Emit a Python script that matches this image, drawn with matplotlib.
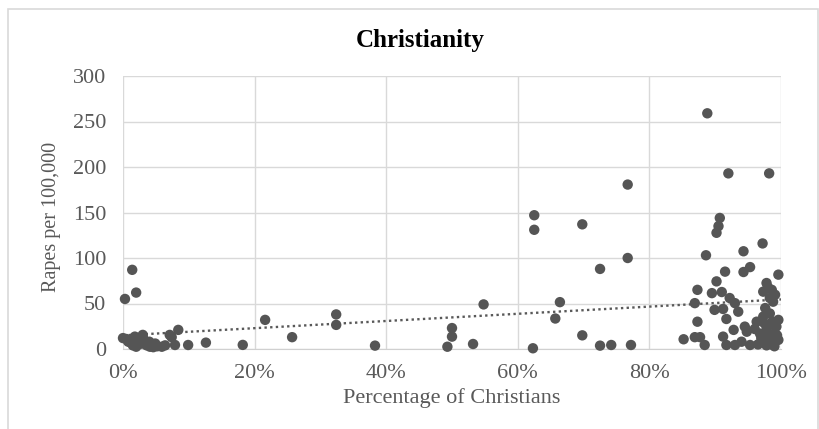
import matplotlib.pyplot as plt
import numpy as np
from matplotlib.patches import Rectangle
from matplotlib.ticker import PercentFormatter

# share of Christians in the population (%) and rapes per 100,000, one entry per country
pct_christian = [
    0.0, 0.3, 0.5, 0.8, 1.2, 1.4, 1.5, 1.8, 2.0, 2.0, 2.6, 2.8, 3.0, 3.0, 3.3,
    3.6, 4.0, 4.1, 4.6, 4.9, 5.2, 5.9, 6.4, 7.1, 7.4, 7.9, 8.4, 9.9, 12.6,
    18.2, 21.6, 25.7,
    32.4, 32.4, 38.3, 49.3, 50.0, 50.0, 53.2, 54.8, 62.3, 62.5, 62.5, 65.7,
    66.4, 69.8, 69.8, 72.5, 72.5, 74.2, 76.7, 76.7, 77.2,
    85.2, 86.9, 86.9, 87.3, 87.3, 87.7, 88.4, 88.6, 88.8, 89.5, 89.9, 90.2,
    90.2, 90.5, 90.7, 91.0, 91.2, 91.2, 91.5, 91.7, 91.7, 92.0, 92.2, 92.8,
    93.0, 93.0, 93.5, 94.0, 94.3, 94.3, 94.5, 94.8, 95.3, 95.3,
    96.3, 96.8, 97.2, 97.3, 97.3, 97.3, 97.8, 97.8, 97.8, 98.0, 98.0, 98.2,
    98.3, 98.3, 98.3, 98.6, 98.8, 98.8, 99.0, 99.1, 99.3, 99.6, 99.6, 99.6,
    96.0, 96.5, 97.0, 97.5, 98.5, 98.7, 99.0, 99.4, 97.6,
]
rapes_per_100k = [
    12, 55, 11, 8, 7, 87, 4, 13.6, 62, 2.5, 6, 6, 15.5, 13, 9,
    4, 8, 2.5, 2, 6, 3, 2.5, 4, 15.5, 13, 4.4, 21, 4.4, 7,
    4.5, 32, 13,
    38, 26.5, 3.7, 2.5, 23, 13.6, 5.5, 49, 0.8, 147, 131, 33.5,
    51.5, 137, 15, 88, 3.7, 4.4, 180.7, 100, 4.4,
    10.7, 50.4, 13, 65, 30, 13, 4.4, 103, 259, 61.4, 43, 127.7,
    74.3, 135, 144, 62.6, 44, 13.6, 85, 33, 4.4, 193, 56, 21,
    50.4, 4.4, 41, 8, 107.4, 84.6, 24.6, 19, 90, 4.4,
    30, 17, 116, 63, 35.6, 8, 72.5, 21, 4, 68, 25, 193,
    56, 39, 13.6, 65, 52, 4.4, 17, 59.6, 24.6, 81.7, 32, 10,
    22, 5, 12, 28, 8, 30, 3, 15, 45,
]

x_ticks = [0, 20, 40, 60, 80, 100]
y_ticks = [0, 50, 100, 150, 200, 250, 300]

plt.rcParams["font.family"] = ["Liberation Serif", "DejaVu Serif"]

W, H = 820, 429
fig = plt.figure(figsize=(W / 100, H / 100), dpi=100)
ax = fig.add_axes([123 / W, 1 - 349 / H, (781 - 123) / W, (349 - 76) / H])

# thin chart-area frame
fig.patches.append(Rectangle((8 / W, -0.05), (818 - 8) / W, 1 - 9 / H + 0.05,
                             transform=fig.transFigure, fill=False,
                             edgecolor="#d9d9d9", linewidth=1.2))

x = np.array(pct_christian)
y = np.array(rapes_per_100k)
ax.scatter(x, y, s=56, color="#555555", edgecolors="none", zorder=3, clip_on=False)

# linear trendline
slope, intercept = np.polyfit(x, y, 1)
xs = np.array([0, 100])
ax.plot(xs, slope * xs + intercept, linestyle=(0, (1, 1.4)), color="#595959",
        linewidth=1.7, zorder=2)

ax.set_xlim(0, 100)
ax.set_ylim(0, 300)
ax.set_xticks(x_ticks)
ax.set_yticks(y_ticks)
ax.xaxis.set_major_formatter(PercentFormatter(decimals=0))
ax.grid(True, color="#d9d9d9", linewidth=1)
ax.set_axisbelow(True)
for side in ["top", "right", "left"]:
    ax.spines[side].set_visible(False)
ax.spines["bottom"].set_color("#d0d0d0")
ax.tick_params(length=0, labelsize=16, labelcolor="#595959")
ax.tick_params(axis="x", pad=11)
ax.tick_params(axis="y", pad=12)

fig.text(452 / W, 1 - 398 / H, "Percentage of Christians", ha="center", va="center",
         fontsize=16, color="#595959")
fig.text(52 / W, 1 - 217 / H, "Rapes per 100,000", ha="center", va="center",
         rotation=90, fontsize=14.5, color="#595959")
fig.text(420 / W, 1 - 41 / H, "Christianity", ha="center", va="center",
         fontsize=18, fontweight="bold", color="black")

fig.savefig("out.png", dpi=100)
